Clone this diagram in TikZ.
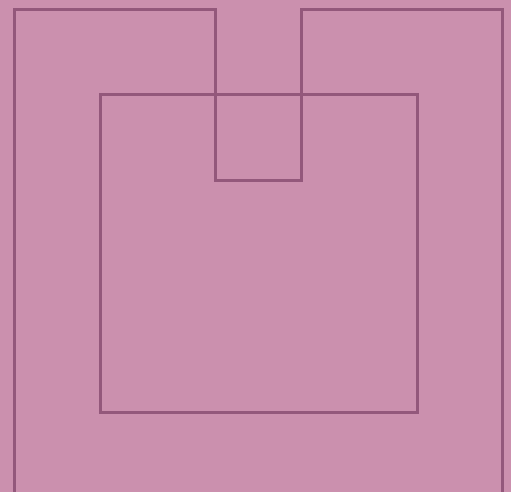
\documentclass[tikz,border=0pt]{standalone}
\usepackage{tikz}
\definecolor{bgpink}{HTML}{CB90AE}
\definecolor{wallpink}{HTML}{93587B}
\tikzset{wall/.style={draw=wallpink, line width=3pt}}
\begin{document}
\begin{tikzpicture}[x=1pt, y=-1pt]
 \fill [bgpink] (0,0) rectangle (511,492);
 \useasboundingbox (0,0) rectangle (511,492);
 % outer wall with notch
 \draw [wall] (14,493) -- (14,10) -- (215,10) -- (215,180)
   -- (301,180) -- (301,10) -- (502,10) -- (502,493);
 % inner square
 \draw [wall] (100,95) rectangle (417,412);
\end{tikzpicture}
\end{document}
